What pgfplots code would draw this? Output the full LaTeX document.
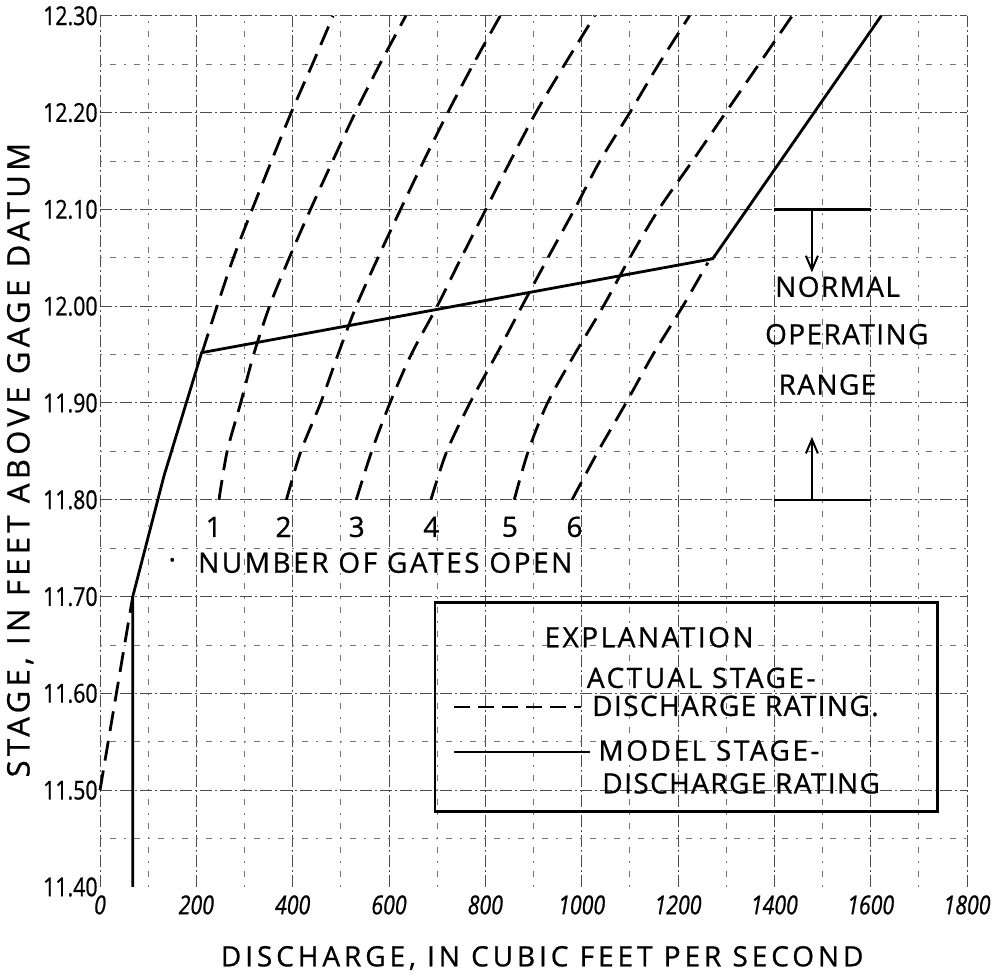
\documentclass[border=0pt]{standalone}
\usepackage{fontspec}
\setmainfont{Open Sans}
\newfontfamily\hand[LetterSpace=5, FakeBold=0.8]{Open Sans}
\newfontfamily\handwide[LetterSpace=14, FakeBold=0.8]{Open Sans}
\newfontfamily\handmid[LetterSpace=9, FakeBold=0.8]{Open Sans}
\newfontfamily\handtick[FakeStretch=0.82, FakeBold=0.8]{Open Sans}
\usepackage{pgfplots}
\pgfplotsset{compat=1.18}
\usetikzlibrary{arrows.meta}

\pgfplotstableread{
x y
0 11.50
68 11.70
}\gatezero
\pgfplotstableread{
x y
212 11.952
243 12.00
277 12.05
316 12.10
356 12.15
397 12.20
441 12.25
484 12.30
}\lineA
\pgfplotstableread{
x y
247 11.80
264 11.85
292 11.90
319 11.95
352 12.00
393 12.05
437 12.10
483 12.15
530 12.20
581 12.25
635 12.30
}\gateone
\pgfplotstableread{
x y
387 11.80
417 11.85
458 11.90
494 11.95
532 12.00
577 12.05
624 12.10
672 12.15
722 12.20
775 12.25
831 12.30
}\gatetwo
\pgfplotstableread{
x y
532 11.80
564 11.85
602 11.90
646 11.95
700 12.00
750 12.05
801 12.10
852 12.15
905 12.20
965 12.25
1027 12.30
}\gatethree
\pgfplotstableread{
x y
687 11.80
720 11.85
768 11.90
823 11.95
876 12.00
930 12.05
985 12.10
1038 12.15
1100 12.20
1160 12.25
1224 12.30
}\gatefour
\pgfplotstableread{
x y
860 11.80
889 11.85
929 11.90
985 11.95
1045 12.00
1100 12.05
1160 12.10
1230 12.15
1299 12.20
1368 12.25
1437 12.30
}\gatefive
\pgfplotstableread{
x y
980 11.80
1034 11.85
1092 11.90
1148 11.95
1210 12.00
1262 12.045
}\gatesix
\pgfplotstableread{
x y
68 11.40
68 11.70
133 11.825
211 11.952
1272 12.049
1622 12.30
}\model

\begin{document}
\begin{tikzpicture}
\begin{axis}[
  at={(50pt,45pt)}, anchor=south west,
  scale only axis, width=433.5pt, height=435.6pt,
  xmin=0, xmax=1800, ymin=11.40, ymax=12.30,
  axis line style={draw=none},
  xtick={0,200,400,600,800,1000,1200,1400,1600,1800},
  xticklabels={0,200,400,600,800,1000,1200,1400,1600,1800},
  minor xtick={100,300,500,700,900,1100,1300,1500,1700},
  ytick={11.5,11.6,11.7,11.8,11.9,12.0,12.1,12.2,12.3},
  yticklabels={11.50,11.60,11.70,11.80,11.90,12.00,12.10,12.20,12.30},
  minor ytick={11.45,11.55,11.65,11.75,11.85,11.95,12.05,12.15,12.25},
  extra y ticks={11.4}, extra y tick labels={11.40},
  extra y tick style={grid=none},
  grid=both,
  major grid style={black!70, line width=0.5pt, dash pattern=on 6pt off 1.5pt on 1pt off 1.5pt},
  minor grid style={black!55, line width=0.45pt, dash pattern=on 1pt off 4pt on 3pt off 4pt},
  tick style={draw=none},
  major tick length=0pt, minor tick length=0pt,
  yticklabel style={font=\handtick\fontsize{13}{13}\selectfont, inner sep=0pt, xshift=-1pt},
  xticklabel style={font=\handtick\itshape\fontsize{13}{13}\selectfont, inner sep=0pt, yshift=-4pt},
  xlabel={DISCHARGE, IN CUBIC FEET PER SECOND},
  xlabel style={font=\handwide\fontsize{14}{14}\selectfont, at={(axis description cs:0.51,0)}, anchor=center, yshift=-35.5pt},
  ylabel={STAGE, IN FEET ABOVE GAGE DATUM},
  ylabel style={font=\handwide\fontsize{15.5}{15.5}\selectfont, at={(axis description cs:-0.092,0.49)}, anchor=center},
  clip=false,
]
\pgfplotsset{every axis plot/.append style={line width=1.4pt, black}}
\addplot[dash pattern=on 10pt off 5pt] table {\gatezero};
\addplot[smooth, tension=0.5, dash pattern=on 10pt off 5pt] table {\lineA};
\addplot[smooth, tension=0.5, dash pattern=on 10pt off 5pt] table {\gateone};
\addplot[smooth, tension=0.5, dash pattern=on 10pt off 5pt] table {\gatetwo};
\addplot[smooth, tension=0.5, dash pattern=on 10pt off 5pt] table {\gatethree};
\addplot[smooth, tension=0.5, dash pattern=on 10pt off 5pt] table {\gatefour};
\addplot[smooth, tension=0.5, dash pattern=on 10pt off 5pt] table {\gatefive};
\addplot[smooth, tension=0.5, dash pattern=on 10pt off 5pt] table {\gatesix};
\addplot[solid] table {\model};

% normal operating range
\addplot[solid, line width=1.2pt] coordinates {(1400,12.10) (1600,12.10)};
\addplot[solid, line width=1.2pt] coordinates {(1400,11.80) (1600,11.80)};
\addplot[solid, line width=1.0pt, -{Straight Barb[length=7pt,width=6pt]}] coordinates {(1478,12.10) (1478,12.035)};
\addplot[solid, line width=1.0pt, -{Straight Barb[length=7pt,width=6pt]}] coordinates {(1478,11.80) (1478,11.865)};

\begin{scope}[every node/.style={font=\hand\fontsize{14}{14}\selectfont, inner sep=0pt}]
\node[anchor=west] at (axis cs:1401,12.020) {NORMAL};
\node[anchor=west] at (axis cs:1380,11.971) {OPERATING};
\node[anchor=west] at (axis cs:1408,11.919) {RANGE};

\node at (axis cs:236,11.772) {1};
\node at (axis cs:381,11.772) {2};
\node at (axis cs:533,11.772) {3};
\node at (axis cs:688,11.772) {4};
\node at (axis cs:851,11.772) {5};
\node at (axis cs:985,11.772) {6};
\node at (axis cs:150,11.738) {.};
\node[anchor=west, font=\handmid\fontsize{14}{14}\selectfont] at (axis cs:203,11.735) {NUMBER OF GATES OPEN};

\node[anchor=west, font=\handmid\fontsize{14}{14}\selectfont] at (axis cs:922,11.658) {EXPLANATION};
\node[anchor=west, font=\handmid\fontsize{14}{14}\selectfont] at (axis cs:1010,11.616) {ACTUAL STAGE-};
\node[anchor=west, font=\hand\fontsize{14}{14}\selectfont] at (axis cs:1021,11.587) {DISCHARGE RATING.};
\node[anchor=west, font=\handmid\fontsize{14}{14}\selectfont] at (axis cs:1034,11.541) {MODEL STAGE-};
\node[anchor=west, font=\hand\fontsize{14}{14}\selectfont] at (axis cs:1042,11.507) {DISCHARGE RATING};
\end{scope}
\draw[line width=1.2pt] (axis cs:695,11.478) rectangle (axis cs:1739,11.694);
\draw[line width=1.0pt, dash pattern=on 8pt off 4pt] (axis cs:735,11.586) -- (axis cs:999,11.586);
\draw[line width=1.0pt] (axis cs:735,11.539) -- (axis cs:1017,11.539);
\end{axis}
\pgfresetboundingbox
\useasboundingbox (0,0) rectangle (502.5pt,488.5pt);
\end{tikzpicture}
\end{document}
